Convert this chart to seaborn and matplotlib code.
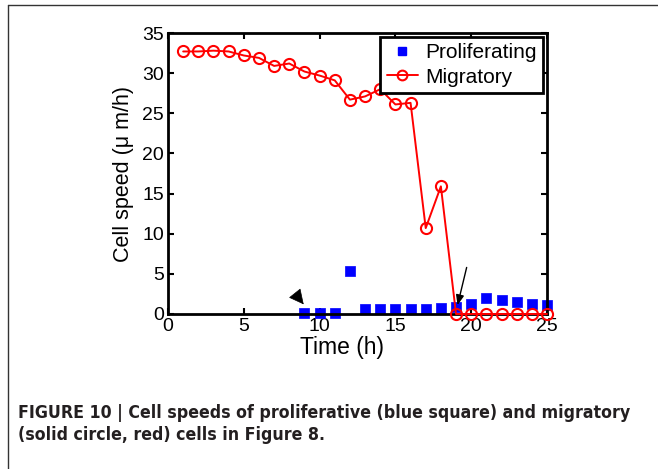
import numpy as np
import pandas as pd
import matplotlib
matplotlib.use("Agg")
import matplotlib.pyplot as plt
import seaborn as sns
from matplotlib.lines import Line2D

# ---- data ----
time_mig = list(range(1, 26))
speed_mig = [32.7, 32.7, 32.8, 32.7, 32.2, 31.9, 30.9, 31.2, 30.2, 29.7, 29.1,
             26.7, 27.1, 28.0, 26.1, 26.3, 10.7, 15.9,
             0, 0, 0, 0, 0, 0, 0]
time_pro = list(range(9, 26))
speed_pro = [0.1, 0.1, 0.1, 5.4, 0.6, 0.6, 0.6, 0.6, 0.6, 0.8, 0.9,
             1.3, 2.0, 1.8, 1.5, 1.2, 1.1]
x_ticks = [0, 5, 10, 15, 20, 25]
y_ticks = [0, 5, 10, 15, 20, 25, 30, 35]
series_names = ["Proliferating", "Migratory"]
x_label = "Time (h)"
y_label = "Cell speed (\u03bc m/h)"
caption = ("FIGURE 10 | Cell speeds of proliferative (blue square) and migratory\n"
           "(solid circle, red) cells in Figure 8.")

sns.set_theme(style="white")
plt.rcParams["font.family"] = ["Liberation Sans", "DejaVu Sans"]
plt.rcParams["text.color"] = "black"
plt.rcParams["axes.labelcolor"] = "black"
plt.rcParams["xtick.color"] = "black"
plt.rcParams["ytick.color"] = "black"

fig = plt.figure(figsize=(6.58, 4.69), dpi=100)
ax = fig.add_axes([168 / 658, 1 - 314 / 469, (547 - 168) / 658, (314 - 33) / 469])

df_pro = pd.DataFrame({"t": time_pro, "v": speed_pro})
df_mig = pd.DataFrame({"t": time_mig, "v": speed_mig})

sns.lineplot(data=df_mig, x="t", y="v", ax=ax, color="#ff0000", linewidth=1.4,
             marker="o", markersize=8, markerfacecolor="none",
             markeredgecolor="#ff0000", markeredgewidth=1.5, zorder=3,
             legend=False, clip_on=False)
sns.scatterplot(data=df_pro, x="t", y="v", ax=ax, color="#0000ff", marker="s",
                s=55, edgecolor="#0000ff", linewidth=0.5, zorder=2,
                legend=False, clip_on=False)

ax.set_xlim(0, 25)
ax.set_ylim(0, 35)
ax.set_xticks(x_ticks)
ax.set_yticks(y_ticks)
ax.set_xlabel(x_label, fontsize=16.5, labelpad=3)
ax.set_ylabel(y_label, fontsize=15.5, labelpad=6)
ax.xaxis.set_label_coords(0.46, -0.08)
ax.tick_params(direction="in", length=4, width=1.5, labelsize=14, pad=3,
               top=True, right=True, bottom=True, left=True, color="black",
               labelcolor="black")
for sp in ax.spines.values():
    sp.set_linewidth(2)
    sp.set_color("black")
    sp.set_visible(True)

# annotations: arrowhead and arrow
ax.annotate("", xy=(8.95, 1.2), xytext=(8.4, 2.5),
            arrowprops=dict(arrowstyle="-|>,head_length=0.8,head_width=0.4",
                            color="black", lw=0.5, mutation_scale=12,
                            shrinkA=0, shrinkB=0), zorder=5)
ax.annotate("", xy=(19.1, 1.1), xytext=(19.7, 5.8),
            arrowprops=dict(arrowstyle="-|>,head_length=0.5,head_width=0.2",
                            color="black", lw=1.0, mutation_scale=12,
                            shrinkA=0, shrinkB=0), zorder=5)

handles = [Line2D([], [], linestyle="none", marker="s", color="#0000ff",
                  markersize=6),
           Line2D([], [], color="#ff0000", linewidth=1.4, marker="o",
                  markerfacecolor="none", markeredgewidth=1.5, markersize=7)]
leg = ax.legend(handles, series_names, loc="upper right", fontsize=15,
                fancybox=False, framealpha=1, edgecolor="black",
                borderaxespad=0.2, borderpad=0.3, handlelength=1.5,
                handletextpad=0.35, labelspacing=0.25)
leg.get_frame().set_linewidth(2)

# outer panel frame
fig.add_artist(Line2D([8 / 658, 8 / 658], [0, 1 - 5 / 469], color="#333333",
                      linewidth=1, transform=fig.transFigure))
fig.add_artist(Line2D([8 / 658, 1], [1 - 5 / 469, 1 - 5 / 469], color="#333333",
                      linewidth=1, transform=fig.transFigure))

fig.text(18 / 658, 1 - 404 / 469, caption, fontsize=12.7, fontweight="bold",
         family=["DejaVu Sans"], fontstretch="condensed", color="#231f20",
         va="top", ha="left", linespacing=1.3)

fig.savefig("out.png", dpi=100, facecolor="white")
